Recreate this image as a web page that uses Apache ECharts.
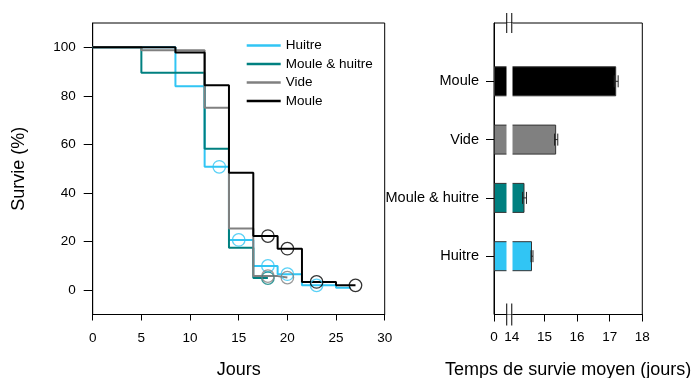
<!DOCTYPE html>
<html>
<head>
<meta charset="utf-8">
<script src="https://cdn.jsdelivr.net/npm/echarts@6/dist/echarts.min.js"></script>
<style>
html,body{margin:0;padding:0;background:#fff;}
#chart{width:693px;height:378px;}
</style>
</head>
<body>
<div id="chart"></div>
<script>
// ---------- DATA ----------
// Kaplan-Meier curves (time in days, survival in %)
const groups = ['Huitre', 'Moule & huitre', 'Vide', 'Moule'];
const colors = ['#31c5f4', '#008080', '#808080', '#000000'];

const huitreT = [0, 8.5, 11.5, 14, 16.5, 19, 21.5, 25, 26.5];
const huitreS = [100, 84.0, 50.8, 20.7, 10.0, 6.6, 2.0, 1.0, 1.0];
const huitreCensT = [13, 15, 18, 20, 23];
const huitreCensS = [50.8, 20.7, 10.0, 6.6, 2.0];

const mhT = [0, 5, 11.5, 14, 16.5, 18];
const mhS = [100, 89.5, 58.2, 17.5, 5.0, 5.0];
const mhCensT = [18];
const mhCensS = [5.0];

const videT = [0, 5, 11.5, 14, 16.5, 19, 20];
const videS = [100, 98.8, 75.1, 25.4, 5.8, 5.2, 5.2];
const videCensT = [18, 20];
const videCensS = [5.8, 5.2];

const mouleT = [0, 8.5, 11.5, 14, 16.5, 19, 21.5, 25, 27];
const mouleS = [100, 97.9, 84.4, 48.4, 22.3, 17.1, 3.4, 2.0, 2.0];
const mouleCensT = [18, 20, 23, 27];
const mouleCensS = [22.3, 17.1, 3.4, 2.0];

const yTicks = [0, 20, 40, 60, 80, 100];

// Mean survival time (days) with error
const barCats = ['Huitre', 'Moule & huitre', 'Vide', 'Moule'];
const barMeans = [14.62, 14.39, 15.36, 17.2];
const barErr = [0.03, 0.06, 0.05, 0.06];
const barColors = ['#31c5f4', '#008080', '#808080', '#000000'];
const barXLabels = [0, 14, 15, 16, 17, 18];
const barXTicks = [0, 15, 16, 17, 18];
const BREAK_START = 0.39;
const BREAK_END = 14;

// ---------- CHART ----------
const FONT = '"Liberation Sans", Arial, sans-serif';
const chart = echarts.init(document.getElementById('chart'), null, {renderer: 'canvas'});

const curves = [
  [huitreT, huitreS, huitreCensT, huitreCensS],
  [mhT, mhS, mhCensT, mhCensS],
  [videT, videS, videCensT, videCensS],
  [mouleT, mouleS, mouleCensT, mouleCensS]
];

const series = [];
curves.forEach((c, i) => {
  series.push({
    name: groups[i], type: 'line', step: 'end',
    xAxisIndex: 0, yAxisIndex: 0,
    data: c[0].map((t, k) => [t, c[1][k]]),
    showSymbol: false, symbol: 'none',
    lineStyle: {width: 2, color: colors[i]},
    itemStyle: {color: colors[i]},
    z: 2 + i
  });
});
curves.forEach((c, i) => {
  series.push({
    name: groups[i] + ' (censure)', type: 'scatter',
    xAxisIndex: 0, yAxisIndex: 0,
    data: c[2].map((t, k) => [t, c[3][k]]),
    symbol: 'circle', symbolSize: 12.5,
    itemStyle: {color: 'rgba(0,0,0,0)', borderColor: colors[i], borderWidth: 1.3},
    z: 10 + i
  });
});

series.push({
  name: 'Temps moyen', type: 'bar',
  xAxisIndex: 1, yAxisIndex: 1,
  barWidth: 30,
  data: barCats.map((c, i) => ({
    value: [barMeans[i], c],
    itemStyle: {color: barColors[i], borderColor: '#333', borderWidth: 1}
  }))
});
series.push({
  name: 'Erreur', type: 'custom',
  xAxisIndex: 1, yAxisIndex: 1,
  data: barCats.map((c, i) => [barMeans[i] - barErr[i], barMeans[i] + barErr[i], c]),
  encode: {x: [0, 1], y: 2},
  renderItem: function (params, api) {
    const y = api.value(2);
    const p1 = api.coord([api.value(0), y]);
    const p2 = api.coord([api.value(1), y]);
    const h = 6;
    const st = {stroke: '#222', lineWidth: 1};
    return {
      type: 'group',
      children: [
        {type: 'line', shape: {x1: p1[0], y1: p1[1], x2: p2[0], y2: p2[1]}, style: st},
        {type: 'line', shape: {x1: p1[0], y1: p1[1] - h, x2: p1[0], y2: p1[1] + h}, style: st},
        {type: 'line', shape: {x1: p2[0], y1: p2[1] - h, x2: p2[0], y2: p2[1] + h}, style: st}
      ]
    };
  },
  z: 20
});

const axisLineStyle = {show: true, onZero: false, lineStyle: {color: '#000', width: 1}};

const option = {
  animation: false,
  backgroundColor: '#fff',
  textStyle: {fontFamily: FONT},
  grid: [
    {left: 92.7, right: 308.3, top: 23, bottom: 63.5, show: true, borderColor: '#000', borderWidth: 1,
     containLabel: false, outerBoundsMode: 'none'},
    {left: 494, right: 50.7, top: 23, bottom: 63.5, show: true, borderColor: '#000', borderWidth: 1,
     containLabel: false, outerBoundsMode: 'none'}
  ],
  legend: {
    data: groups,
    orient: 'vertical',
    left: 246.7, top: 38.5, padding: 0,
    icon: 'rect', itemWidth: 34, itemHeight: 2.5, itemGap: 4.5,
    textStyle: {fontSize: 13.5, color: '#000', fontFamily: FONT},
    selectedMode: false
  },
  xAxis: [
    {
      type: 'value', gridIndex: 0, min: 0, max: 30, interval: 5,
      axisLine: axisLineStyle,
      axisTick: {show: true, length: 6, lineStyle: {color: '#000'}},
      axisLabel: {fontSize: 13.5, color: '#000', margin: 17, fontFamily: FONT},
      splitLine: {show: false},
      name: 'Jours', nameLocation: 'middle', nameGap: 47,
      nameTextStyle: {fontSize: 18, color: '#000', fontFamily: FONT}
    },
    {
      type: 'value', gridIndex: 1, min: 0, max: 18, interval: 1,
      breaks: [{start: BREAK_START, end: BREAK_END, gap: '3.4%'}],
      breakArea: {
        show: true,
        itemStyle: {color: '#fff', opacity: 1, borderColor: '#fff', borderWidth: 0},
        zigzagAmplitude: 0,
        zigzagZ: 100,
        expandOnClick: false
      },
      breakLabelLayout: {moveOverlap: false},
      axisLine: axisLineStyle,
      axisTick: {show: true, length: 7, customValues: barXTicks, lineStyle: {color: '#000'}},
      axisLabel: {
        fontSize: 13.5, color: '#000', margin: 16, fontFamily: FONT,
        customValues: barXLabels, showMinLabel: true, hideOverlap: false
      },
      splitLine: {show: false},
      name: 'Temps de survie moyen (jours)', nameLocation: 'middle', nameGap: 47,
      nameTextStyle: {fontSize: 18, color: '#000', fontFamily: FONT}
    }
  ],
  yAxis: [
    {
      type: 'value', gridIndex: 0, min: -10, max: 110,
      axisLine: axisLineStyle,
      axisTick: {show: true, length: 9, customValues: yTicks, lineStyle: {color: '#000'}},
      axisLabel: {fontSize: 13.5, color: '#000', margin: 17, customValues: yTicks, fontFamily: FONT},
      splitLine: {show: false},
      name: 'Survie (%)', nameLocation: 'middle', nameGap: 65,
      nameTextStyle: {fontSize: 18, color: '#000', fontFamily: FONT}
    },
    {
      type: 'category', gridIndex: 1,
      data: [''].concat(barCats, ['']),
      boundaryGap: false,
      axisLine: axisLineStyle,
      axisTick: {show: true, length: 8, lineStyle: {color: '#000'},
        interval: function (i, v) { return v !== ''; }},
      axisLabel: {fontSize: 14.5, color: '#000', margin: 15, fontFamily: FONT, interval: 0},
      splitLine: {show: false}
    }
  ],
  series: series
};

chart.setOption(option);

// axis-break marks ("||") on top and bottom frame of the right panel
function drawBreakMarks() {
  const xa = chart.convertToPixel({xAxisIndex: 1}, BREAK_START);
  const xb = chart.convertToPixel({xAxisIndex: 1}, BREAK_END);
  const yTop = chart.convertToPixel({yAxisIndex: 1}, 5);
  const yBot = chart.convertToPixel({yAxisIndex: 1}, 0);
  const st = {stroke: '#000', lineWidth: 1};
  const els = [];
  [xa, xb].forEach(x => {
    els.push({type: 'line', shape: {x1: x, y1: yTop - 10, x2: x, y2: yTop + 10}, style: st, z: 200});
    els.push({type: 'line', shape: {x1: x, y1: yBot - 11, x2: x, y2: yBot + 11}, style: st, z: 200});
  });
  chart.setOption({graphic: els});
}
drawBreakMarks();
</script>
</body>
</html>
